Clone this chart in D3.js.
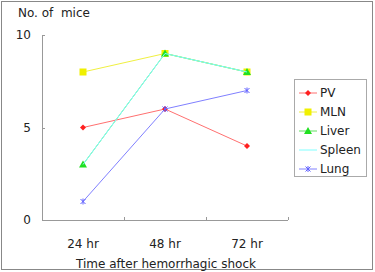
<!DOCTYPE html>
<html>
<head>
<meta charset="utf-8">
<script src="https://cdn.jsdelivr.net/npm/d3@7"></script>
<style>
  body { margin: 0; background: #fff; }
  text { font-family: "DejaVu Sans", Arial, sans-serif; fill: #222; }
</style>
</head>
<body>
<div id="chart"></div>
<script>
var times = ["24 hr", "48 hr", "72 hr"];
var seriesNames = ["PV", "MLN", "Liver", "Spleen", "Lung"];
var pv = [5, 6, 4];
var mln = [8, 9, 8];
var liver = [3, 9, 8];
var spleen = [3, 9, 8];
var lung = [1, 6, 7];
var yTicks = [0, 5, 10];

var series = [
  { name: "PV", values: pv, color: "#ff2020", line: "#ff7070", marker: "diamond" },
  { name: "MLN", values: mln, color: "#f0f000", line: "#f0f040", marker: "square" },
  { name: "Liver", values: liver, color: "#20e020", line: "#60e060", marker: "triangle" },
  { name: "Spleen", values: spleen, color: "#40ffff", line: "#80ffff", marker: "none" },
  { name: "Lung", values: lung, color: "#6060ff", line: "#8080ff", marker: "cross" }
];

var width = 375, height = 272;
var svg = d3.select("#chart").append("svg")
  .attr("width", width).attr("height", height);

// outer frame
svg.append("rect")
  .attr("x", 1.5).attr("y", 1.5)
  .attr("width", 371).attr("height", 268)
  .attr("fill", "#fff").attr("stroke", "#888").attr("stroke-width", 1);

var x = d3.scaleBand().domain(times).range([42, 288]);
var y = d3.scaleLinear().domain([0, 10]).range([220, 35]);

// axes
svg.append("line")
  .attr("x1", 42.5).attr("x2", 42.5)
  .attr("y1", y(10)).attr("y2", y(0))
  .attr("stroke", "#999");
svg.append("line")
  .attr("x1", 42).attr("x2", 288)
  .attr("y1", y(0) + 0.5).attr("y2", y(0) + 0.5)
  .attr("stroke", "#999");

yTicks.forEach(function(t) {
  svg.append("line")
    .attr("x1", 42).attr("x2", 45)
    .attr("y1", Math.round(y(t)) + 0.5).attr("y2", Math.round(y(t)) + 0.5)
    .attr("stroke", "#999");
  svg.append("text")
    .attr("x", 31).attr("y", y(t) + 4)
    .attr("text-anchor", "end")
    .attr("font-size", 12)
    .text(t);
});

var xEdges = [x(times[0])].concat(times.map(function(t) { return x(t) + x.bandwidth(); }));
xEdges.forEach(function(e) {
  svg.append("line")
    .attr("x1", Math.round(e) + 0.5).attr("x2", Math.round(e) + 0.5)
    .attr("y1", y(0) - 3).attr("y2", y(0))
    .attr("stroke", "#999");
});

times.forEach(function(t) {
  svg.append("text")
    .attr("x", x(t) + x.bandwidth() / 2).attr("y", 248)
    .attr("text-anchor", "middle")
    .attr("font-size", 12)
    .text(t);
});

svg.append("text")
  .attr("x", 18).attr("y", 17)
  .attr("font-size", 12)
  .attr("xml:space", "preserve")
  .text("No. of  mice");

svg.append("text")
  .attr("x", 166).attr("y", 268)
  .attr("text-anchor", "middle")
  .attr("font-size", 12)
  .text("Time after hemorrhagic shock");

function drawMarker(g, type, cx, cy, color) {
  if (type === "diamond") {
    g.append("path")
      .attr("d", "M" + cx + "," + (cy - 3) + "L" + (cx + 3) + "," + cy + "L" + cx + "," + (cy + 3) + "L" + (cx - 3) + "," + cy + "Z")
      .attr("fill", color);
  } else if (type === "square") {
    g.append("rect")
      .attr("x", cx - 3.5).attr("y", cy - 3.5)
      .attr("width", 7).attr("height", 7)
      .attr("fill", color);
  } else if (type === "triangle") {
    g.append("path")
      .attr("d", "M" + cx + "," + (cy - 4) + "L" + (cx + 4) + "," + (cy + 3) + "L" + (cx - 4) + "," + (cy + 3) + "Z")
      .attr("fill", color);
  } else if (type === "cross") {
    g.append("path")
      .attr("d", "M" + (cx - 2.5) + "," + (cy - 2.5) + "L" + (cx + 2.5) + "," + (cy + 2.5) +
        "M" + (cx + 2.5) + "," + (cy - 2.5) + "L" + (cx - 2.5) + "," + (cy + 2.5) +
        "M" + cx + "," + (cy - 3) + "L" + cx + "," + (cy + 3))
      .attr("stroke", color).attr("stroke-width", 1).attr("fill", "none");
  }
}

var line = d3.line()
  .x(function(d, i) { return x(times[i]) + x.bandwidth() / 2; })
  .y(function(d) { return y(d); });

series.forEach(function(s) {
  var g = svg.append("g");
  g.append("path")
    .attr("d", line(s.values))
    .attr("fill", "none")
    .attr("stroke", s.line)
    .attr("stroke-width", 1);
  s.values.forEach(function(v, i) {
    drawMarker(g, s.marker, x(times[i]) + x.bandwidth() / 2, y(v), s.color);
  });
});

// legend
var legend = svg.append("g");
legend.append("rect")
  .attr("x", 294.5).attr("y", 79.5)
  .attr("width", 72).attr("height", 97)
  .attr("fill", "#fff").attr("stroke", "#aaa");

series.forEach(function(s, i) {
  var ly = 93 + i * 19;
  legend.append("line")
    .attr("x1", 299).attr("x2", 317)
    .attr("y1", ly).attr("y2", ly)
    .attr("stroke", s.line);
  drawMarker(legend, s.marker, 308, ly, s.color);
  legend.append("text")
    .attr("x", 320).attr("y", ly + 4)
    .attr("font-size", 12)
    .text(s.name);
});
</script>
</body>
</html>
